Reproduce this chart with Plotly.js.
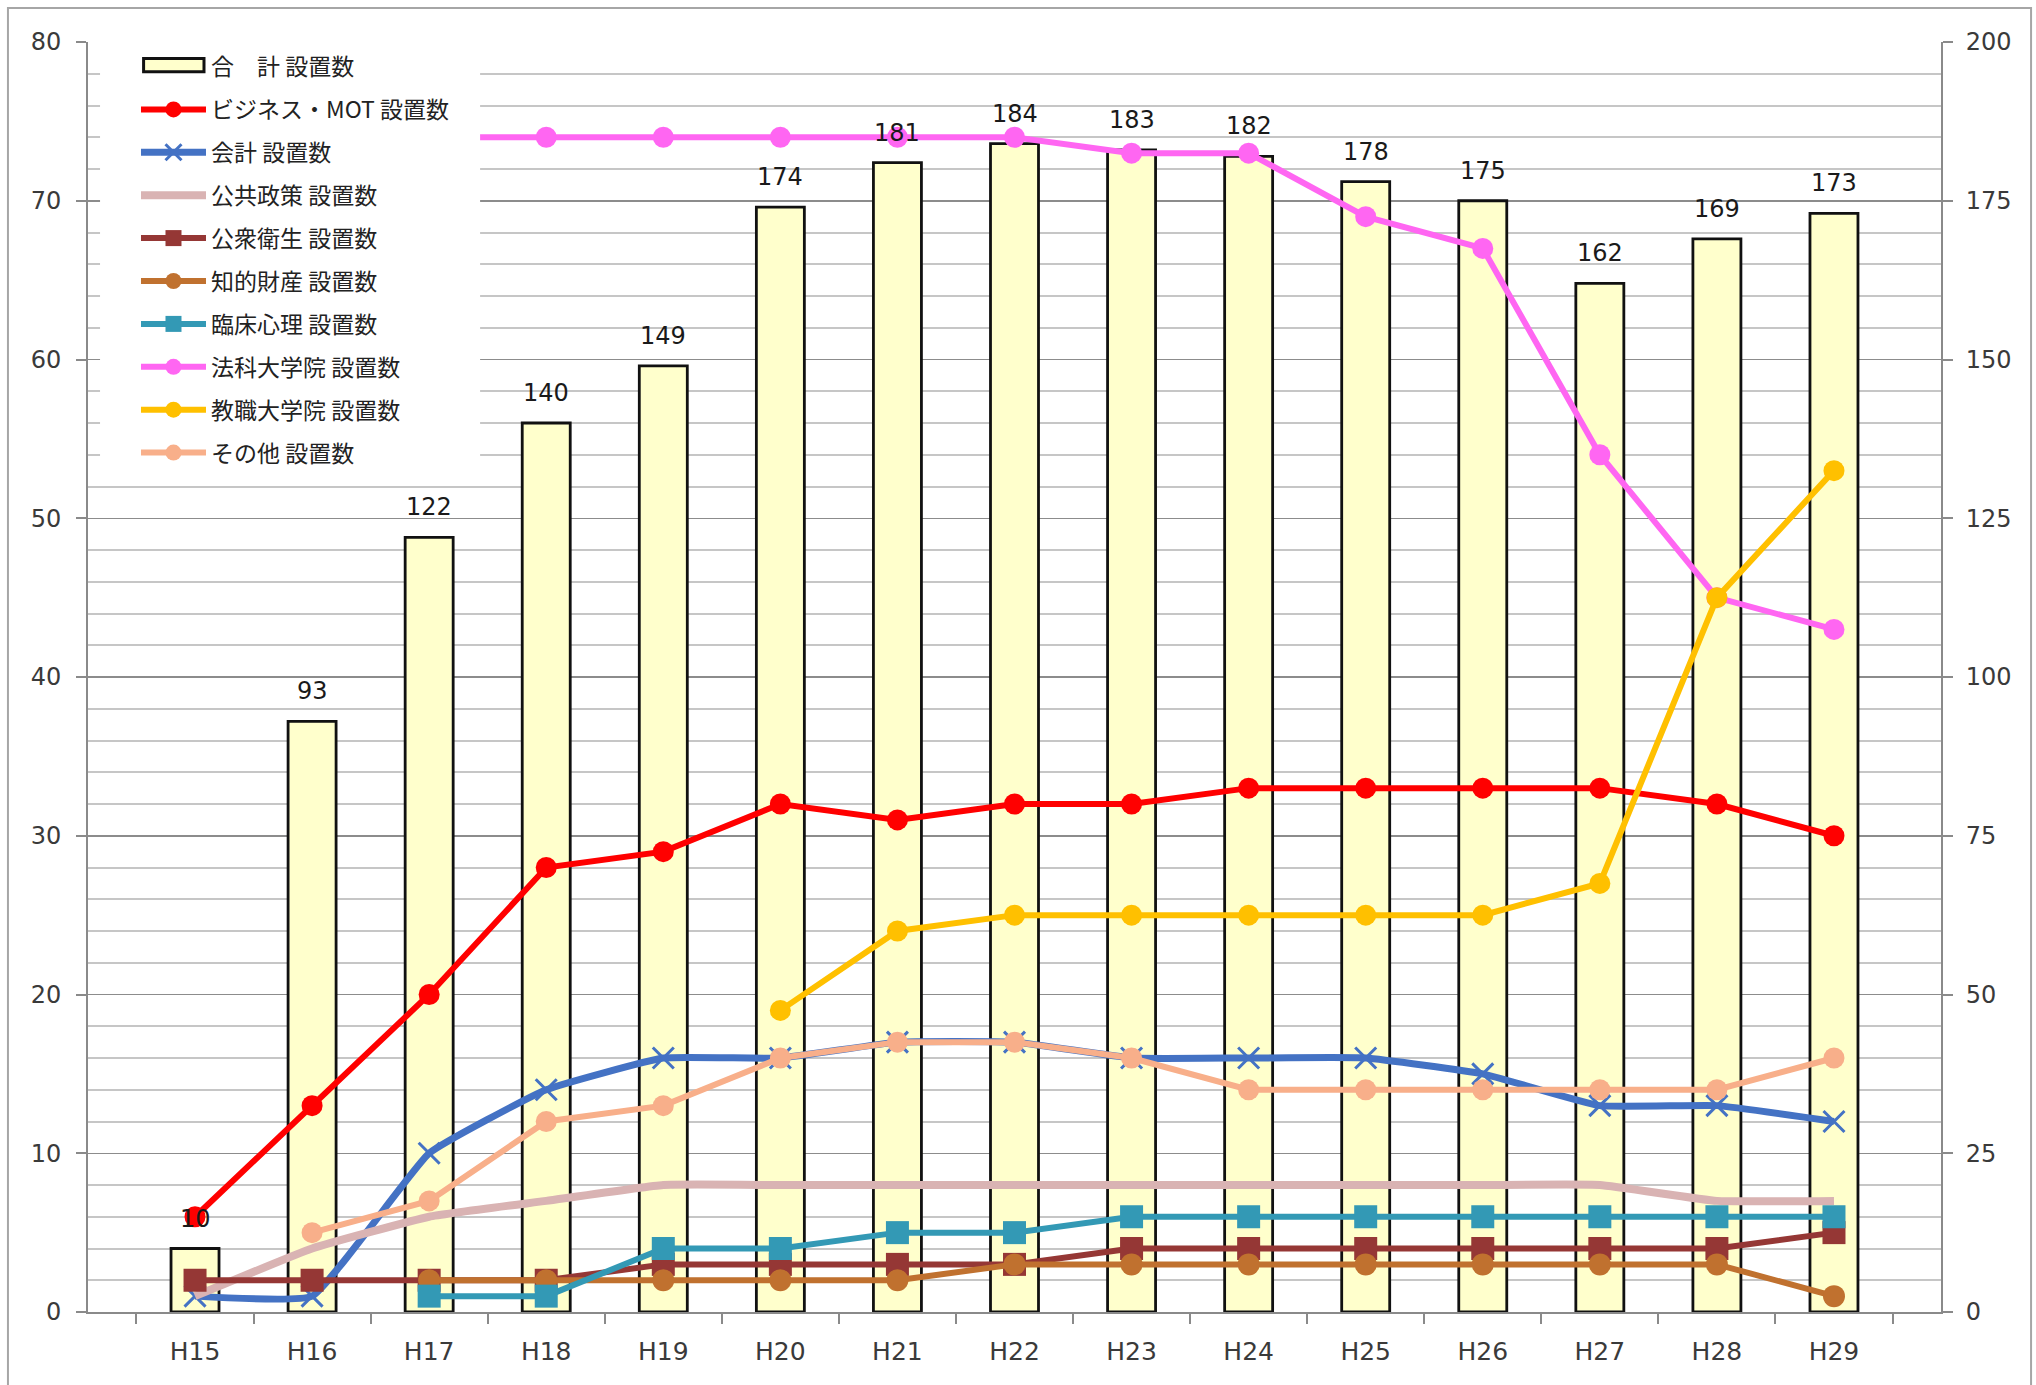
<!DOCTYPE html>
<html>
<head>
<meta charset="utf-8">
<script src="https://cdn.plot.ly/plotly-3.0.1.min.js"></script>
<style>
  html, body { margin: 0; padding: 0; background: #ffffff; }
  #chart { width: 2036px; height: 1385px; }
</style>
</head>
<body>
<div id="chart"></div>
<script>
// Fiscal years (Heisei)
const categories = ['H15','H16','H17','H18','H19','H20','H21','H22','H23','H24','H25','H26','H27','H28','H29'];

// Total number of professional graduate schools (right axis)
const totalCount = [10, 93, 122, 140, 149, 174, 181, 184, 183, 182, 178, 175, 162, 169, 173];

// Counts by field (left axis)
const businessMot   = [6, 13, 20, 28, 29, 32, 31, 32, 32, 33, 33, 33, 33, 32, 30];
const accounting    = [1, 1, 10, 14, 16, 16, 17, 17, 16, 16, 16, 15, 13, 13, 12];
const publicPolicy  = [1, 4, 6, 7, 8, 8, 8, 8, 8, 8, 8, 8, 8, 7, 7];
const publicHealth  = [2, 2, 2, 2, 3, 3, 3, 3, 4, 4, 4, 4, 4, 4, 5];
const intellectual  = [null, null, 2, 2, 2, 2, 2, 3, 3, 3, 3, 3, 3, 3, 1];
const clinicalPsych = [null, null, 1, 1, 4, 4, 5, 5, 6, 6, 6, 6, 6, 6, 6];
const lawSchool     = [null, null, 74, 74, 74, 74, 74, 74, 73, 73, 69, 67, 54, 45, 43];
const teacherSchool = [null, null, null, null, null, 19, 24, 25, 25, 25, 25, 25, 27, 45, 53];
const otherFields   = [null, 5, 7, 12, 13, 16, 17, 17, 16, 14, 14, 14, 14, 14, 16];

const seriesNames = [
  '合　計 設置数',
  'ビジネス・MOT 設置数',
  '会計 設置数',
  '公共政策 設置数',
  '公衆衛生 設置数',
  '知的財産 設置数',
  '臨床心理 設置数',
  '法科大学院 設置数',
  '教職大学院 設置数',
  'その他 設置数'
];

const tickFont = { family: 'DejaVu Sans, Noto Sans, sans-serif', size: 24, color: '#3a3a3a' };
const axisGray = '#8a8a8a';
const barFill = '#FFFFCC';

function lineTrace(name, values, color, width, marker, shape) {
  const t = {
    type: 'scatter',
    mode: marker ? 'lines+markers' : 'lines',
    name: name,
    legendgroup: name,
    x: categories,
    y: values,
    yaxis: 'y2',
    line: { color: color, width: width, shape: shape || 'linear', smoothing: 0.35 },
    connectgaps: false,
    cliponaxis: false
  };
  if (marker) t.marker = marker;
  return t;
}

const traces = [
  {
    type: 'bar',
    name: seriesNames[0],
    legendgroup: seriesNames[0],
    showlegend: false,
    x: categories,
    y: totalCount,
    yaxis: 'y',
    width: 0.41,
    marker: { color: barFill, line: { color: '#111111', width: 2.8 } }
  },
  // legend entry for the bars (its key box is drawn as a shape below)
  {
    type: 'scatter',
    name: seriesNames[0],
    legendgroup: seriesNames[0],
    x: [null],
    y: [null],
    mode: 'lines',
    line: { color: 'rgba(0,0,0,0)', width: 0 },
    yaxis: 'y'
  },
  lineTrace(seriesNames[1], businessMot, '#FF0000', 6, { symbol: 'circle', size: 21, color: '#FF0000' }),
  lineTrace(seriesNames[2], accounting, '#4472C4', 7,
    { symbol: 'x-thin-open', size: 21, color: '#4472C4', line: { color: '#4472C4', width: 3 } }, 'spline'),
  lineTrace(seriesNames[3], publicPolicy, '#D9B3B3', 8, null, 'spline'),
  lineTrace(seriesNames[4], publicHealth, '#953735', 6, { symbol: 'square', size: 23, color: '#953735' }),
  lineTrace(seriesNames[5], intellectual, '#C0712F', 6, { symbol: 'circle', size: 22, color: '#C0712F' }),
  lineTrace(seriesNames[6], clinicalPsych, '#3399B5', 6, { symbol: 'square', size: 23, color: '#3399B5' }),
  lineTrace(seriesNames[7], lawSchool, '#FF66F2', 6, { symbol: 'circle', size: 21, color: '#FF66F2' }),
  lineTrace(seriesNames[8], teacherSchool, '#FFC000', 6, { symbol: 'circle', size: 21, color: '#FFC000' }),
  lineTrace(seriesNames[9], otherFields, '#F8AF8A', 6, { symbol: 'circle', size: 21, color: '#F8AF8A' })
];

// Value labels above each total bar
const barLabels = categories.map((c, i) => ({
  x: c,
  y: totalCount[i],
  xref: 'x',
  yref: 'y',
  text: String(totalCount[i]),
  showarrow: false,
  yanchor: 'middle',
  yshift: 30,
  font: { family: 'DejaVu Sans, Noto Sans, sans-serif', size: 24, color: '#1a1a1a' }
}));

const layout = {
  width: 2036,
  height: 1385,
  margin: { l: 88, r: 95, t: 42, b: 73, pad: 0 },
  paper_bgcolor: '#ffffff',
  plot_bgcolor: '#ffffff',
  showlegend: true,
  barmode: 'overlay',
  xaxis: {
    type: 'category',
    tickson: 'boundaries',
    ticks: 'outside',
    ticklen: 10,
    tickwidth: 2,
    tickcolor: axisGray,
    showline: true,
    linecolor: axisGray,
    linewidth: 2,
    showgrid: false,
    ticklabelstandoff: 16,
    tickfont: { family: 'DejaVu Sans, Noto Sans, sans-serif', size: 25, color: '#3a3a3a' }
  },
  yaxis: {
    side: 'right',
    range: [0, 200],
    dtick: 25,
    tick0: 0,
    ticks: 'outside',
    ticklen: 10,
    tickwidth: 2,
    tickcolor: axisGray,
    showline: true,
    linecolor: axisGray,
    linewidth: 2,
    showgrid: true,
    gridcolor: '#8c8c8c',
    gridwidth: 1.5,
    zeroline: false,
    ticklabelstandoff: 8,
    minor: { dtick: 5, showgrid: true, gridcolor: '#c6c6c6', gridwidth: 2 },
    tickfont: tickFont
  },
  yaxis2: {
    overlaying: 'y',
    side: 'left',
    range: [0, 80],
    dtick: 10,
    tick0: 0,
    ticks: 'outside',
    ticklen: 10,
    tickwidth: 2,
    tickcolor: axisGray,
    showline: true,
    linecolor: axisGray,
    linewidth: 2,
    showgrid: false,
    zeroline: false,
    ticklabelstandoff: 10,
    tickfont: tickFont
  },
  legend: {
    x: 0.0259,
    y: 0.9976,
    xanchor: 'left',
    yanchor: 'top',
    bgcolor: 'rgba(0,0,0,0)',
    borderwidth: 0,
    traceorder: 'grouped',
    tracegroupgap: 10,
    itemwidth: 65,
    font: { family: 'Noto Sans CJK JP, sans-serif', size: 23, color: '#222222' }
  },
  annotations: barLabels,
  shapes: [
    // white panel behind the legend
    {
      type: 'rect',
      xref: 'paper',
      yref: 'paper',
      x0: 0.0065,
      x1: 0.2116,
      y0: 0.655,
      y1: 0.9976,
      line: { width: 0 },
      fillcolor: '#ffffff',
      layer: 'above'
    },
    // key box for the bar legend entry
    {
      type: 'rect',
      xref: 'paper',
      yref: 'paper',
      x0: 0.0300,
      x1: 0.0626,
      y0: 0.9766,
      y1: 0.9870,
      line: { color: '#111111', width: 3 },
      fillcolor: barFill,
      layer: 'above'
    },
    // outer chart frame
    {
      type: 'rect',
      xref: 'paper',
      yref: 'paper',
      x0: -0.0432,
      x1: 1.0486,
      y0: -0.08,
      y1: 1.0268,
      line: { color: '#a6a6a6', width: 2 },
      fillcolor: 'rgba(0,0,0,0)',
      layer: 'above'
    }
  ]
};

Plotly.newPlot('chart', traces, layout, { displayModeBar: false, staticPlot: true });
</script>
</body>
</html>
